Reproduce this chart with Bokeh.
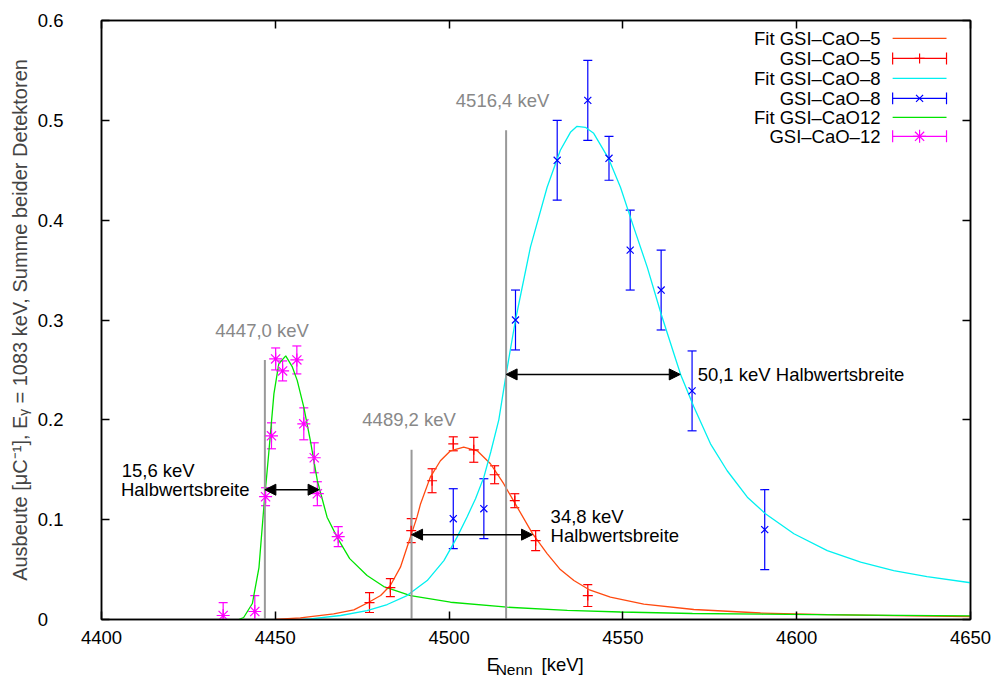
from bokeh.plotting import figure
from bokeh.layouts import column
from bokeh.models import (Range1d, LinearAxis, FixedTicker, Whisker, TeeHead,
                          ColumnDataSource, Arrow, NormalHead, CustomJSTickFormatter)
from bokeh.core.properties import value
from bokeh.embed import file_html
from bokeh.resources import INLINE

# ---------------- data ----------------
cao12_e = [4435.0, 4444.1, 4447.2, 4448.9, 4450.1, 4452.1, 4456.2, 4458.2, 4461.2, 4462.1, 4468.1]
cao12_y = [0.004, 0.008, 0.123, 0.184, 0.261, 0.249, 0.260, 0.196, 0.162, 0.126, 0.083]
cao12_err = [0.013, 0.016, 0.009, 0.013, 0.011, 0.010, 0.014, 0.016, 0.015, 0.012, 0.010]

cao5_e = [4477.1, 4483.1, 4489.1, 4495.1, 4501.2, 4507.1, 4513.1, 4518.9, 4524.9, 4539.9]
cao5_y = [0.017, 0.032, 0.089, 0.139, 0.176, 0.170, 0.145, 0.119, 0.079, 0.024]
cao5_err = [0.010, 0.009, 0.012, 0.012, 0.007, 0.0125, 0.009, 0.007, 0.010, 0.011]

cao8_e = [4501.2, 4510.0, 4519.1, 4531.1, 4539.9, 4546.0, 4552.1, 4561.0, 4569.9, 4590.8]
cao8_y = [0.101, 0.111, 0.300, 0.460, 0.520, 0.462, 0.370, 0.330, 0.229, 0.090]
cao8_err = [0.030, 0.030, 0.030, 0.040, 0.040, 0.022, 0.040, 0.040, 0.040, 0.040]

fit12_e = [4439.5, 4440.9, 4443.4, 4445.3, 4446.7, 4448.1, 4449.6, 4451.0, 4453.0, 4454.9,
           4456.3, 4458.2, 4460.1, 4462.1, 4464.9, 4468.0, 4471.4, 4476.4, 4481.2, 4488.9,
           4500.4, 4516.7, 4534.0, 4549.3, 4570.0, 4590.0, 4620.0, 4650.0]
fit12_y = [0.0, 0.002, 0.016, 0.052, 0.1125, 0.166, 0.226, 0.256, 0.264, 0.253,
           0.2395, 0.2127, 0.179, 0.139, 0.1025, 0.081, 0.061, 0.044, 0.033, 0.024,
           0.0173, 0.0123, 0.0092, 0.0075, 0.006, 0.0053, 0.0044, 0.0037]

fit5_e = [4450.0, 4457.2, 4466.8, 4472.6, 4476.9, 4480.3, 4483.1, 4486.0, 4487.9, 4489.2,
          4490.8, 4491.8, 4494.6, 4497.5, 4500.4, 4504.2, 4508.1, 4511.9, 4515.7, 4519.6,
          4524.0, 4528.2, 4530.1, 4532.0, 4535.9, 4540.2, 4546.4, 4556.0, 4570.4, 4589.6,
          4608.8, 4627.9, 4650.0]
fit5_y = [0.0, 0.0017, 0.0057, 0.0097, 0.0173, 0.024, 0.034, 0.0524, 0.0724, 0.086,
          0.103, 0.116, 0.1426, 0.159, 0.169, 0.1727, 0.169, 0.156, 0.136, 0.1125,
          0.086, 0.066, 0.058, 0.050, 0.039, 0.030, 0.0225, 0.0155, 0.0100, 0.0065,
          0.0048, 0.0038, 0.003]

fit8_e = [4458.0, 4460.1, 4468.8, 4476.4, 4482.2, 4487.9, 4493.7, 4498.5, 4502.3, 4505.2,
          4507.6, 4510.0, 4512.0, 4514.3, 4516.4, 4519.1, 4523.4, 4528.2, 4532.0, 4534.9,
          4536.8, 4539.2, 4541.6, 4545.9, 4549.3, 4553.1, 4557.0, 4561.0, 4564.7, 4566.6,
          4570.4, 4575.2, 4580.0, 4585.8, 4591.0, 4599.2, 4608.8, 4618.4, 4627.9, 4637.5,
          4650.0]
fit8_y = [0.0, 0.0007, 0.004, 0.009, 0.015, 0.024, 0.039, 0.059, 0.0825, 0.103,
          0.121, 0.1426, 0.168, 0.200, 0.2455, 0.300, 0.373, 0.433, 0.470, 0.488,
          0.494, 0.493, 0.487, 0.4616, 0.433, 0.393, 0.353, 0.306, 0.266, 0.2455,
          0.213, 0.176, 0.149, 0.1225, 0.106, 0.0859, 0.069, 0.0574, 0.049, 0.043,
          0.0368]

peak_e = [4447.0, 4489.2, 4516.4]
peak_top = [0.26, 0.17, 0.49]
peak_labels = ["4447,0 keV", "4489,2 keV", "4516,4 keV"]
fwhm = [15.6, 34.8, 50.1]
fwhm_level = [0.130, 0.085, 0.2455]

legend_labels = ["Fit GSI\u2013CaO\u20135", "GSI\u2013CaO\u20135", "Fit GSI\u2013CaO\u20138",
                 "GSI\u2013CaO\u20138", "Fit GSI\u2013CaO12", "GSI\u2013CaO\u201312"]

x_ticks = [4400, 4450, 4500, 4550, 4600, 4650]
y_ticks = [0, 0.1, 0.2, 0.3, 0.4, 0.5, 0.6]

# ---------------- style ----------------
FONT = "Liberation Sans"
FS = "18.5px"
C_FIT5 = "#ff4a10"
C_D5 = "#ff0000"
C_FIT8 = "#00f0f0"
C_D8 = "#0000ff"
C_FIT12 = "#00e400"
C_D12 = "#ff00ff"
GRAY = "#999999"

xr = Range1d(4400, 4650)
p = figure(width=995, height=652, output_backend="svg", toolbar_location=None,
           x_range=xr, y_range=Range1d(0, 0.6),
           min_border_left=101, min_border_right=25, min_border_top=20, min_border_bottom=33,
           x_axis_location=None, y_axis_location=None)
p.grid.visible = False
p.outline_line_color = "black"
p.outline_line_width = 1.5
p.border_fill_color = "white"

def style_axis(ax, labels=True):
    ax.major_tick_in = 8
    ax.major_tick_out = 0
    ax.minor_tick_line_color = None
    ax.axis_line_color = "black"
    ax.axis_line_width = 1.5
    ax.major_tick_line_width = 1.5
    ax.major_label_text_font = FONT
    ax.major_label_text_font_size = FS
    ax.major_label_text_color = "black"
    if not labels:
        ax.formatter = CustomJSTickFormatter(code="return ''")

xb = LinearAxis(ticker=FixedTicker(ticks=x_ticks))
style_axis(xb)
xb.major_label_standoff = 11
p.add_layout(xb, "below")

yl = LinearAxis(ticker=FixedTicker(ticks=y_ticks))
style_axis(yl)
yl.major_label_standoff = 38
yl.major_label_overrides = {0: "0\u2008\u2007"}
yl.axis_label = "Ausbeute [\u03bcC\u207b\u00b9], E\u1d67 = 1083 keV, Summe beider Detektoren"
yl.axis_label_text_font = FONT
yl.axis_label_text_font_size = "20px"
yl.axis_label_text_font_style = "normal"
yl.axis_label_standoff = 4
p.add_layout(yl, "left")

xt = LinearAxis(ticker=FixedTicker(ticks=x_ticks))
style_axis(xt, labels=False)
p.add_layout(xt, "above")
yr = LinearAxis(ticker=FixedTicker(ticks=y_ticks))
style_axis(yr, labels=False)
p.add_layout(yr, "right")

# fit curves
p.line(fit5_e, fit5_y, line_color=C_FIT5, line_width=1.3)
p.line(fit12_e, fit12_y, line_color=C_FIT12, line_width=1.3)
p.line(fit8_e, fit8_y, line_color=C_FIT8, line_width=1.3)

# peak position lines
p.segment(x0=peak_e, y0=[0, 0, 0], x1=peak_e, y1=peak_top, line_color=GRAY, line_width=2)
lab_y = [0.2896, 0.2004, 0.520]
lab_x = [4446.2, 4488.5, 4515.4]
p.text(x=lab_x, y=lab_y, text=peak_labels, text_font=value(FONT), text_font_size=FS,
       text_color="#888888", text_align="center", text_baseline="middle")

# FWHM arrows
for e0, w, lv in zip(peak_e, fwhm, fwhm_level):
    p.add_layout(Arrow(x_start=e0, y_start=lv, x_end=e0 + w, y_end=lv, line_width=1.5,
                       start=NormalHead(size=11, fill_color="black", line_color="black"),
                       end=NormalHead(size=11, fill_color="black", line_color="black")))
fw_text = ["%s keV" % str(fwhm[0]).replace(".", ","), "Halbwertsbreite",
           "%s keV" % str(fwhm[1]).replace(".", ","), "Halbwertsbreite",
           "%s keV Halbwertsbreite" % str(fwhm[2]).replace(".", ",")]
fw_x = [4405.8, 4405.6, 4529.2, 4529.2, 4571.5]
fw_y = [0.149, 0.130, 0.103, 0.084, 0.2455]
p.text(x=fw_x, y=fw_y, text=fw_text, text_font=value(FONT), text_font_size=FS,
       text_color="black", text_align="left", text_baseline="middle")

# data with error bars
def errbars(e, y, err, color):
    src = ColumnDataSource(dict(x=e, lo=[a - b for a, b in zip(y, err)], hi=[a + b for a, b in zip(y, err)]))
    p.add_layout(Whisker(source=src, base="x", upper="hi", lower="lo", dimension="height",
                         line_color=color, line_width=1.2,
                         upper_head=TeeHead(size=9, line_color=color, line_width=1.2),
                         lower_head=TeeHead(size=9, line_color=color, line_width=1.2)))

errbars(cao12_e, cao12_y, cao12_err, C_D12)
p.scatter(cao12_e, cao12_y, marker="asterisk", size=13, line_color=C_D12, line_width=1.2)
errbars(cao5_e, cao5_y, cao5_err, C_D5)
p.scatter(cao5_e, cao5_y, marker="cross", size=10, line_color=C_D5, line_width=1.2)
errbars(cao8_e, cao8_y, cao8_err, C_D8)
p.scatter(cao8_e, cao8_y, marker="x", size=10, line_color=C_D8, line_width=1.2)

# legend (gnuplot style: text right, sample right)
leg_y = [0.582, 0.562, 0.542, 0.522, 0.503, 0.484]
leg_tx = 4624.1
s0, s1 = 4627.6, 4643.1
sm = (s0 + s1) / 2
p.text(x=[leg_tx] * 6, y=leg_y, text=legend_labels, text_font=value(FONT), text_font_size=FS,
       text_color="black", text_align="right", text_baseline="middle")
leg_colors = [C_FIT5, C_D5, C_FIT8, C_D8, C_FIT12, C_D12]
p.segment(x0=[s0] * 6, y0=leg_y, x1=[s1] * 6, y1=leg_y, line_color=leg_colors, line_width=1.3)
eb_rows = [1, 3, 5]
eb_y = [leg_y[i] for i in eb_rows]
eb_c = [leg_colors[i] for i in eb_rows]
cap = 0.006
p.segment(x0=[s0] * 3, y0=[v - cap for v in eb_y], x1=[s0] * 3, y1=[v + cap for v in eb_y], line_color=eb_c, line_width=1.2)
p.segment(x0=[s1] * 3, y0=[v - cap for v in eb_y], x1=[s1] * 3, y1=[v + cap for v in eb_y], line_color=eb_c, line_width=1.2)
p.scatter([sm], [eb_y[0]], marker="cross", size=10, line_color=C_D5, line_width=1.2)
p.scatter([sm], [eb_y[1]], marker="x", size=10, line_color=C_D8, line_width=1.2)
p.scatter([sm], [eb_y[2]], marker="asterisk", size=13, line_color=C_D12, line_width=1.2)

# x axis title with subscript, in a thin strip below the plot sharing the x range
q = figure(width=995, height=25, output_backend="svg", toolbar_location=None,
           x_range=xr, y_range=Range1d(0, 25),
           min_border_left=101, min_border_right=25, min_border_top=0, min_border_bottom=0,
           x_axis_location=None, y_axis_location=None)
q.grid.visible = False
q.outline_line_color = None
q.border_fill_color = "white"
q.text(x=[4510.8], y=[13], text=["E"], text_font=value(FONT), text_font_size=FS,
       text_color="black", text_align="left", text_baseline="alphabetic")
q.text(x=[4513.4], y=[8], text=["Nenn"], text_font=value(FONT), text_font_size="15.5px",
       text_color="black", text_align="left", text_baseline="alphabetic")
q.text(x=[4526.6], y=[13], text=["[keV]"], text_font=value(FONT), text_font_size=FS,
       text_color="black", text_align="left", text_baseline="alphabetic")

layout = column(p, q, spacing=0)
open("out.html", "w").write(file_html(layout, INLINE))
